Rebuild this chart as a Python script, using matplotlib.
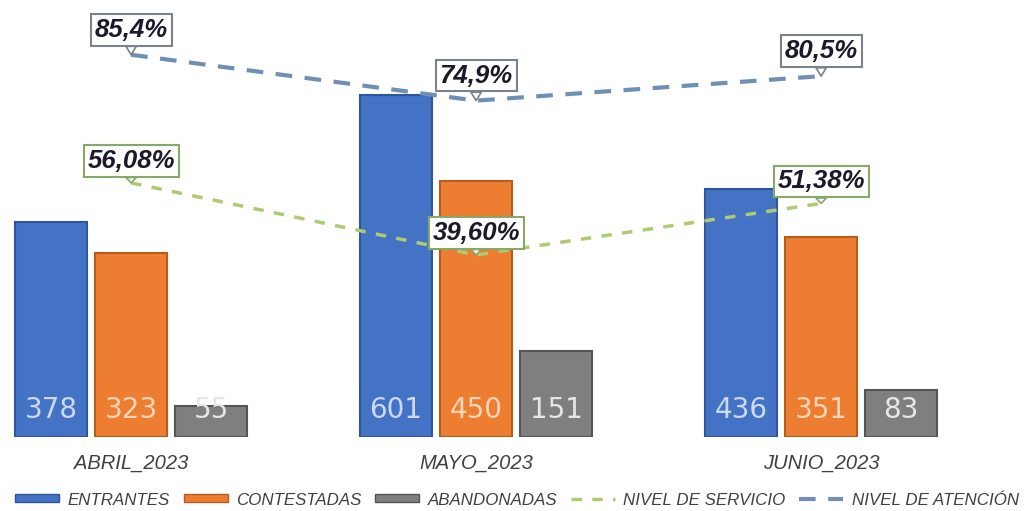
import matplotlib.pyplot as plt
from matplotlib.patches import Patch
from matplotlib.lines import Line2D

# Datos del reporte trimestral
meses = ["ABRIL_2023", "MAYO_2023", "JUNIO_2023"]
entrantes = [378, 601, 436]
contestadas = [323, 450, 351]
abandonadas = [55, 151, 83]
nivel_servicio = [56.08, 39.60, 51.38]   # %
nivel_atencion = [85.4, 74.9, 80.5]      # %

c_ent = "#4472c4"
c_con = "#ed7d31"
c_aba = "#7f7f7f"
c_serv = "#aecb72"
c_aten = "#6f8fb5"

plt.rcParams["font.family"] = ["Liberation Sans", "DejaVu Sans"]

fig = plt.figure(figsize=(10.24, 5.11), dpi=100)
ax = fig.add_axes([0.0, 0.1448, 1.0, 0.7789])
ax2 = ax.twinx()

x = list(range(len(meses)))
w = 0.209
off = 0.232

series = [(entrantes, c_ent, "#2f559a", "#cbd9f2", -off),
          (contestadas, c_con, "#b85c1d", "#fcd6b8", 0),
          (abandonadas, c_aba, "#555555", "#e6e6e6", off)]
for vals, col, edge, txtcol, dx in series:
    xs = [xi + dx for xi in x]
    ax.bar(xs, vals, width=w, color=col, edgecolor=edge, linewidth=1.5, zorder=2)
    for xi, v in zip(xs, vals):
        ax.annotate(str(v), (xi, 0), xytext=(0, 27), textcoords="offset pixels",
                    ha="center", va="center", fontsize=20, color=txtcol,
                    family=["DejaVu Sans"], zorder=3)

ax.set_xlim(-0.380, 2.588)
ax.set_ylim(0, 700)
ax.set_xticks(x)
ax.set_xticklabels(meses, fontsize=14.5, style="italic", color="#404040")
ax.tick_params(axis="x", length=0, pad=12)
ax.set_yticks([])
for s in ax.spines.values():
    s.set_visible(False)

# Niveles en eje secundario
serv = [v / 100 for v in nivel_servicio]
aten = [v / 100 for v in nivel_atencion]
ax2.plot(x, aten, color=c_aten, linestyle=(0, (4, 3)), linewidth=3, zorder=4)
ax2.plot(x, serv, color=c_serv, linestyle=(0, (3, 3)), linewidth=2.5, zorder=4)
ax2.set_ylim(-0.0206, 0.89)
ax2.set_yticks([])
for s in ax2.spines.values():
    s.set_visible(False)


def callout(xi, yi, txt, edge, dy):
    ax2.annotate(txt, (xi, yi), xytext=(0, dy), textcoords="offset pixels",
                 ha="center", va="center", fontsize=18.5, fontweight="bold",
                 style="italic", color="#1a1a2a", zorder=6,
                 bbox=dict(boxstyle="square,pad=0.15", fc="white", ec=edge, lw=1.5),
                 arrowprops=dict(arrowstyle="wedge,tail_width=0.4", fc="white",
                                 ec=edge, lw=1.2, shrinkA=0, shrinkB=0))


for xi, v, raw in zip(x, aten, nivel_atencion):
    callout(xi, v, f"{raw:.1f}%".replace(".", ","), "#7a828c", 25)
for xi, v, raw in zip(x, serv, nivel_servicio):
    callout(xi, v, f"{raw:.2f}%".replace(".", ","), "#86a86a", 22)

handles = [
    Patch(facecolor=c_ent, edgecolor="#2f559a"),
    Patch(facecolor=c_con, edgecolor="#b85c1d"),
    Patch(facecolor=c_aba, edgecolor="#555555"),
    Line2D([], [], color=c_serv, linestyle=(0, (3, 3)), linewidth=2.5),
    Line2D([], [], color=c_aten, linestyle=(0, (4, 3)), linewidth=3),
]
labels = ["ENTRANTES", "CONTESTADAS", "ABANDONADAS", "NIVEL DE SERVICIO", "NIVEL DE ATENCIÓN"]
leg = fig.legend(handles, labels, loc="center", bbox_to_anchor=(0.505, 0.0215), ncol=5,
                 frameon=False, fontsize=12.2, handlelength=2.6, handleheight=0.35,
                 handletextpad=0.5, columnspacing=0.8, borderaxespad=0)
for t in leg.get_texts():
    t.set_style("italic")
    t.set_color("#404040")

fig.savefig("out.png", dpi=100, facecolor="white")
